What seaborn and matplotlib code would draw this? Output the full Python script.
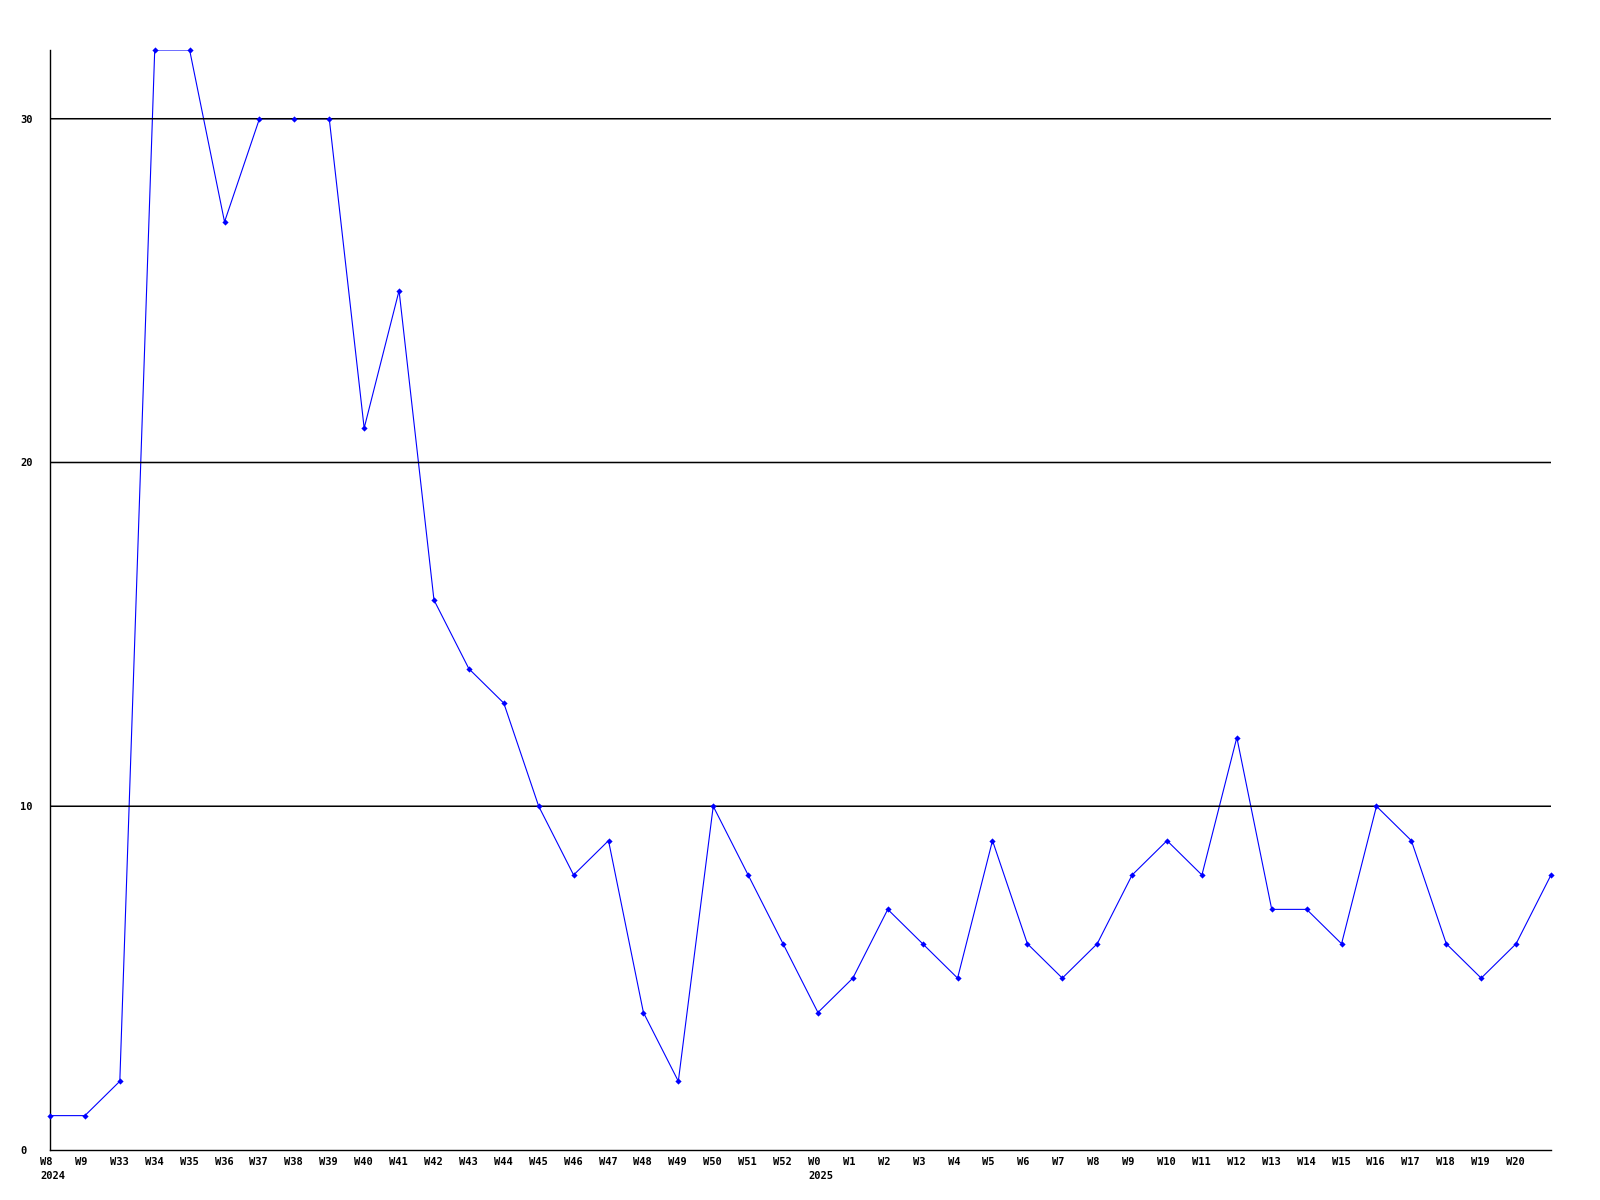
import matplotlib
matplotlib.use("Agg")
import matplotlib.pyplot as plt
import matplotlib.transforms as mtransforms
import seaborn as sns
import pandas as pd

weeks = ["W8", "W9", "W33", "W34", "W35", "W36", "W37", "W38", "W39", "W40",
         "W41", "W42", "W43", "W44", "W45", "W46", "W47", "W48", "W49", "W50",
         "W51", "W52", "W0", "W1", "W2", "W3", "W4", "W5", "W6", "W7",
         "W8", "W9", "W10", "W11", "W12", "W13", "W14", "W15", "W16", "W17",
         "W18", "W19", "W20", ""]
years = {0: "2024", 22: "2025"}
values = [1, 1, 2, 32, 32, 27, 30, 30, 30, 21,
          25, 16, 14, 13, 10, 8, 9, 4, 2, 10,
          8, 6, 4, 5, 7, 6, 5, 9, 6, 5,
          6, 8, 9, 8, 12, 7, 7, 6, 10, 9,
          6, 5, 6, 8]
yticks = [0, 10, 20, 30]

sns.set_theme(style="white")
plt.rcParams['font.family'] = ['DejaVu Sans Mono', 'DejaVu Sans']

df = pd.DataFrame({"pos": list(range(len(values))), "value": values})

fig = plt.figure(figsize=(16, 12), dpi=100)
ax = fig.add_axes([50 / 1600, 1 - 1150 / 1200, (1551 - 50) / 1600, (1150 - 50) / 1200])

sns.lineplot(data=df, x="pos", y="value", ax=ax, color="#0000ff", lw=0.8, zorder=2)
for y in yticks[1:]:
    ax.axhline(y, color="black", lw=1.1, zorder=3, snap=False)
sns.scatterplot(data=df, x="pos", y="value", ax=ax, color="#0000ff", marker="D",
                s=10, linewidth=0, zorder=4, clip_on=False)

ax.set_xlim(0, len(values) - 1)
ax.set_ylim(0, 32)
ax.set_xlabel("")
ax.set_ylabel("")

labels = [w + ("\n" + years[i] if i in years else "") for i, w in enumerate(weeks)]
ax.set_xticks(range(len(weeks)))
ax.set_xticklabels(labels, fontsize=7.5, fontweight="bold", color="black", linespacing=1.5)
ax.set_yticks(yticks)
ax.set_yticklabels([str(v) for v in yticks], fontsize=7.5, fontweight="bold", color="black")
ax.tick_params(axis="both", length=0)
ax.tick_params(axis="x", pad=5)
ax.tick_params(axis="y", pad=21.6)

offset = mtransforms.ScaledTranslation(-10 / 100, 0, fig.dpi_scale_trans)
for lbl in ax.get_xticklabels():
    lbl.set_horizontalalignment("left")
    lbl.set_multialignment("left")
    lbl.set_transform(lbl.get_transform() + offset)
for lbl in ax.get_yticklabels():
    lbl.set_horizontalalignment("left")

for s in ["top", "right"]:
    ax.spines[s].set_visible(False)
for s in ["left", "bottom"]:
    ax.spines[s].set_color("black")
    ax.spines[s].set_linewidth(1.0)
    ax.spines[s].set_zorder(3)

fig.savefig("out.png", dpi=100, facecolor="white")
